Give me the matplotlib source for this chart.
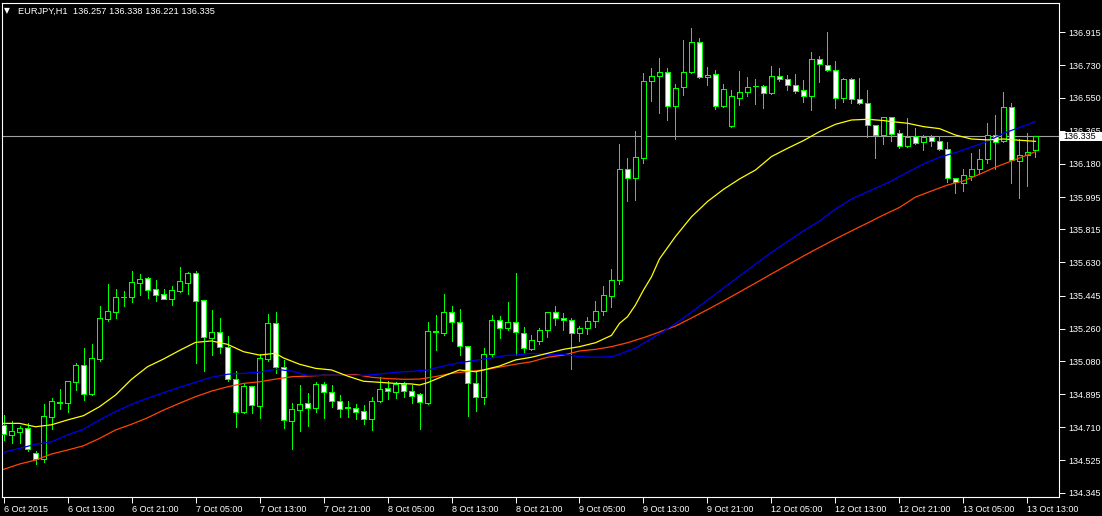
import numpy as np
import matplotlib
matplotlib.use("Agg")
import matplotlib.pyplot as plt
from matplotlib.patches import Rectangle

plt.rcParams['font.family'] = ['Liberation Sans', 'DejaVu Sans']
plt.rcParams['font.size'] = 6.5

# EURJPY H1 candles, 6 Oct 05:00 -> 13 Oct 14:00 (weekend skipped)
opens = [134.723, 134.669, 134.685, 134.704, 134.565, 134.531, 134.769, 134.847, 134.847, 134.964,
         135.056, 134.897, 135.091, 135.316, 135.355, 135.435, 135.439, 135.517, 135.542, 135.481,
         135.452, 135.428, 135.472, 135.517, 135.569, 135.419, 135.210, 135.240, 135.156, 134.978,
         134.794, 134.939, 134.830, 135.093, 135.290, 135.048, 134.747, 134.805, 134.844, 134.819,
         134.950, 134.905, 134.855, 134.819, 134.816, 134.799, 134.758, 134.855, 134.928, 134.909,
         134.950, 134.911, 134.894, 134.844, 135.244, 135.238, 135.352, 135.296, 135.162, 134.955,
         134.877, 135.117, 135.307, 135.262, 135.296, 135.235, 135.149, 135.190, 135.251, 135.352,
         135.318, 135.307, 135.235, 135.262, 135.302, 135.357, 135.444, 135.530, 136.150, 136.100,
         136.211, 136.641, 136.669, 136.691, 136.502, 136.608, 136.691, 136.859, 136.664, 136.680,
         136.502, 136.390, 136.546, 136.580, 136.613, 136.613, 136.574, 136.669, 136.652, 136.619,
         136.591, 136.557, 136.764, 136.731, 136.703, 136.546, 136.652, 136.541, 136.518, 136.396,
         136.340, 136.440, 136.351, 136.279, 136.335, 136.301, 136.329, 136.307, 136.262, 136.100,
         136.072, 136.112, 136.150, 136.206, 136.340, 136.307, 136.497, 136.195, 136.229, 136.257]
highs = [134.778, 134.745, 134.719, 134.732, 134.578, 134.840, 134.875, 134.922, 134.968, 135.069,
         135.152, 135.175, 135.387, 135.510, 135.482, 135.469, 135.582, 135.566, 135.550, 135.532,
         135.484, 135.497, 135.606, 135.577, 135.582, 135.420, 135.365, 135.320, 135.219, 135.024,
         134.955, 134.939, 135.117, 135.342, 135.353, 135.086, 134.844, 134.946, 134.901, 134.963,
         134.963, 134.946, 134.890, 134.855, 134.840, 134.834, 134.879, 134.992, 134.967, 134.963,
         134.961, 134.944, 134.899, 135.298, 135.335, 135.454, 135.387, 135.369, 135.162, 135.022,
         135.151, 135.335, 135.329, 135.408, 135.569, 135.270, 135.225, 135.262, 135.355, 135.385,
         135.346, 135.318, 135.274, 135.324, 135.415, 135.497, 135.592, 136.291, 136.212, 136.362,
         136.686, 136.715, 136.771, 136.715, 136.624, 136.872, 136.939, 136.881, 136.721, 136.703,
         136.624, 136.591, 136.699, 136.664, 136.652, 136.619, 136.727, 136.715, 136.675, 136.682,
         136.648, 136.805, 136.781, 136.916, 136.753, 136.658, 136.658, 136.658, 136.591, 136.399,
         136.443, 136.443, 136.368, 136.436, 136.379, 136.340, 136.340, 136.335, 136.301, 136.103,
         136.150, 136.240, 136.262, 136.407, 136.452, 136.581, 136.518, 136.317, 136.351, 136.338]
lows = [134.639, 134.624, 134.621, 134.579, 134.505, 134.516, 134.702, 134.814, 134.797, 134.918,
        134.862, 134.893, 135.082, 135.303, 135.322, 135.389, 135.409, 135.450, 135.433, 135.417,
        135.425, 135.394, 135.463, 135.456, 135.067, 135.026, 135.115, 135.126, 134.968, 134.713,
        134.790, 134.790, 134.763, 135.082, 135.011, 134.708, 134.590, 134.691, 134.719, 134.797,
        134.763, 134.823, 134.769, 134.769, 134.756, 134.728, 134.695, 134.852, 134.866, 134.875,
        134.881, 134.847, 134.702, 134.841, 135.139, 135.223, 135.193, 135.115, 134.775, 134.803,
        134.842, 135.101, 135.207, 135.251, 135.113, 135.128, 135.141, 135.173, 135.212, 135.279,
        135.255, 135.034, 135.193, 135.232, 135.268, 135.338, 135.380, 135.508, 135.971, 135.977,
        136.183, 136.533, 136.466, 136.427, 136.321, 136.566, 136.686, 136.660, 136.622, 136.489,
        136.498, 136.386, 136.511, 136.557, 136.513, 136.491, 136.569, 136.645, 136.591, 136.574,
        136.527, 136.483, 136.639, 136.700, 136.494, 136.525, 136.518, 136.515, 136.329, 136.212,
        136.290, 136.306, 136.268, 136.276, 136.293, 136.257, 136.279, 136.257, 136.077, 136.019,
        136.027, 136.089, 136.128, 136.184, 136.150, 136.304, 136.072, 135.990, 136.055, 136.221]
closes = [134.672, 134.688, 134.706, 134.589, 134.531, 134.773, 134.855, 134.849, 134.967, 135.056,
          134.897, 135.095, 135.318, 135.357, 135.435, 135.437, 135.519, 135.536, 135.475, 135.450,
          135.428, 135.475, 135.525, 135.569, 135.413, 135.212, 135.240, 135.156, 134.978, 134.794,
          134.939, 134.833, 135.095, 135.290, 135.048, 134.749, 134.810, 134.838, 134.819, 134.950,
          134.905, 134.855, 134.814, 134.821, 134.794, 134.758, 134.855, 134.922, 134.911, 134.950,
          134.911, 134.886, 134.849, 135.246, 135.246, 135.352, 135.296, 135.162, 134.955, 134.877,
          135.117, 135.307, 135.262, 135.296, 135.240, 135.151, 135.195, 135.251, 135.352, 135.318,
          135.307, 135.235, 135.262, 135.302, 135.357, 135.447, 135.530, 136.150, 136.100, 136.217,
          136.641, 136.669, 136.691, 136.502, 136.602, 136.691, 136.859, 136.664, 136.675, 136.502,
          136.597, 136.557, 136.580, 136.608, 136.615, 136.574, 136.669, 136.652, 136.619, 136.585,
          136.557, 136.764, 136.736, 136.703, 136.546, 136.652, 136.541, 136.518, 136.396, 136.340,
          136.440, 136.345, 136.279, 136.329, 136.296, 136.329, 136.307, 136.262, 136.100, 136.077,
          136.117, 136.150, 136.206, 136.340, 136.301, 136.497, 136.200, 136.229, 136.245, 136.335]

# moving averages at these bar numbers
fast_idx = [0, 2, 4, 6, 8, 10, 12, 14, 16, 18, 20, 22, 24, 26, 28, 30, 32, 34, 35, 37, 39, 41, 43, 45,
            47, 49, 51, 52, 53, 55, 57, 59, 60, 62, 64, 66, 68, 70, 72, 74, 76, 77, 78, 79, 80, 81, 82,
            84, 86, 88, 90, 92, 94, 96, 98, 100, 102, 104, 106, 108, 110, 111, 113, 115, 117, 119, 121,
            123, 125, 127, 129]
fast_ma = [134.732, 134.732, 134.713, 134.724, 134.751, 134.775, 134.825, 134.890, 134.978, 135.048,
           135.091, 135.139, 135.184, 135.192, 135.173, 135.132, 135.113, 135.123, 135.097, 135.062,
           135.039, 135.030, 134.996, 134.967, 134.961, 134.955, 134.952, 134.946, 134.959, 134.996,
           135.030, 135.020, 135.030, 135.052, 135.086, 135.101, 135.123, 135.145, 135.160, 135.182,
           135.223, 135.290, 135.327, 135.393, 135.476, 135.550, 135.650, 135.775, 135.885, 135.970,
           136.038, 136.096, 136.146, 136.221, 136.267, 136.310, 136.360, 136.401, 136.425, 136.429,
           136.422, 136.416, 136.407, 136.388, 136.377, 136.341, 136.319, 136.314, 136.319, 136.312,
           136.306]

mid_idx = [0, 4, 6, 8, 10, 12, 14, 16, 18, 20, 22, 24, 26, 28, 30, 32, 34, 36, 38, 40, 43, 45, 47,
           49, 51, 53, 55, 57, 59, 61, 63, 64, 66, 68, 70, 72, 74, 76, 77, 78, 79, 80, 82, 84, 86, 88,
           90, 92, 94, 96, 98, 100, 102, 104, 106, 107, 109, 111, 113, 115, 117, 119, 121, 123, 125,
           127, 129]
mid_ma = [134.570, 134.615, 134.629, 134.667, 134.699, 134.751, 134.797, 134.838, 134.872, 134.903,
          134.933, 134.961, 134.989, 135.006, 135.011, 135.017, 135.034, 135.024, 135.000, 135.000,
          135.000, 135.000, 135.007, 135.017, 135.022, 135.030, 135.052, 135.070, 135.084, 135.097,
          135.112, 135.113, 135.123, 135.117, 135.117, 135.104, 135.101, 135.104, 135.117, 135.136,
          135.151, 135.179, 135.231, 135.289, 135.353, 135.420, 135.487, 135.554, 135.621, 135.686,
          135.747, 135.806, 135.861, 135.928, 135.984, 136.004, 136.044, 136.085, 136.133, 136.180,
          136.217, 136.243, 136.274, 136.305, 136.351, 136.383, 136.416]

slow_idx = [0, 2, 4, 6, 8, 10, 12, 14, 16, 18, 20, 22, 24, 26, 28, 30, 32, 34, 36, 38, 40, 42, 44,
            46, 48, 50, 52, 54, 56, 58, 60, 62, 64, 66, 68, 70, 72, 74, 76, 78, 80, 82, 84, 86, 88,
            90, 92, 94, 96, 98, 100, 102, 104, 106, 108, 110, 112, 114, 116, 118, 120, 122, 124, 126,
            128, 129]
slow_ma = [134.475, 134.505, 134.527, 134.561, 134.583, 134.607, 134.648, 134.695, 134.727, 134.763,
           134.806, 134.844, 134.881, 134.912, 134.936, 134.955, 134.964, 134.979, 134.992, 134.996,
           135.000, 135.000, 135.005, 134.989, 134.982, 134.978, 134.979, 134.993, 135.011, 135.021,
           135.030, 135.046, 135.062, 135.076, 135.101, 135.113, 135.136, 135.145, 135.160, 135.182,
           135.210, 135.242, 135.275, 135.320, 135.367, 135.415, 135.465, 135.515, 135.566, 135.616,
           135.666, 135.714, 135.761, 135.806, 135.850, 135.895, 135.937, 135.995, 136.029, 136.062,
           136.085, 136.122, 136.162, 136.196, 136.230, 136.249]

time_labels = ['6 Oct 2015', '6 Oct 13:00', '6 Oct 21:00', '7 Oct 05:00', '7 Oct 13:00',
               '7 Oct 21:00', '8 Oct 05:00', '8 Oct 13:00', '8 Oct 21:00', '9 Oct 05:00',
               '9 Oct 13:00', '9 Oct 21:00', '12 Oct 05:00', '12 Oct 13:00', '12 Oct 21:00',
               '13 Oct 05:00', '13 Oct 13:00']
price_ticks = [136.915, 136.730, 136.550, 136.365, 136.180, 135.995, 135.815, 135.630,
               135.445, 135.260, 135.080, 134.895, 134.710, 134.525, 134.345]
last_price = 136.335

W, H = 1102, 516
fig = plt.figure(figsize=(W / 100, H / 100), dpi=100, facecolor='black')
ax = fig.add_axes([2 / W, 19 / H, 1057 / W, 494 / H], facecolor='black')

o = np.array(opens)
h = np.array(highs)
l = np.array(lows)
c = np.array(closes)
x = np.arange(len(o))
bull = c >= o

# wicks then bodies
ax.vlines(x, l, h, color='#00ff00', lw=0.72, zorder=2, antialiased=False)
body_lo = np.minimum(o, c)
body_h = np.maximum(np.abs(c - o), 0.0008)
ax.bar(x, body_h, bottom=body_lo, width=0.55,
       color=np.where(bull, 'black', 'white'), edgecolor='#00ff00', lw=0.72,
       antialiased=False, zorder=3)

# moving averages on top
ax.plot(slow_idx, slow_ma, color='#ff4500', lw=0.9, zorder=4)
ax.plot(mid_idx, mid_ma, color='#0000ee', lw=0.9, zorder=4)
ax.plot(fast_idx, fast_ma, color='#ffff00', lw=0.9, zorder=4)

# bid line
ax.axhline(last_price, color='#a0a0a0', lw=0.8, zorder=1)

ax.set_xlim(-0.19, 131.94)
ax.set_ylim(134.321, 137.078)

for s in ax.spines.values():
    s.set_color('white')
    s.set_linewidth(0.8)

ax.set_xticks(np.arange(0, 129, 8))
ax.set_xticklabels(time_labels, ha='left', color='white')
ax.tick_params(axis='x', direction='out', length=4, width=0.7, color='white', pad=2)

ax.yaxis.tick_right()
ax.set_yticks(price_ticks)
ax.set_yticklabels([f'{p:.3f}' for p in price_ticks], color='white')
ax.tick_params(axis='y', direction='out', length=4, width=0.7, color='white', pad=3)

# bid price tag on the price scale (covers part of the 136.365 label, as in the terminal)
ybox = ax.transData.transform((0, last_price))[1] / H
fig.add_artist(Rectangle((1060 / W, ybox - 4.5 / H), 42 / W, 9 / H, transform=fig.transFigure,
                         facecolor='white', edgecolor='none', zorder=5))
fig.text(1063 / W, ybox, f'{last_price:.3f}', color='black', fontsize=6.5,
         ha='left', va='center', zorder=6)

fig.text(7 / W, 1 - 11 / H, '\u25bc', color='white', fontsize=5.5, family='DejaVu Sans',
         ha='center', va='center')
fig.text(18 / W, 1 - 11 / H, 'EURJPY,H1  136.257 136.338 136.221 136.335',
         color='white', fontsize=6.7, ha='left', va='center')

fig.savefig('out.png', dpi=100, facecolor='black')
